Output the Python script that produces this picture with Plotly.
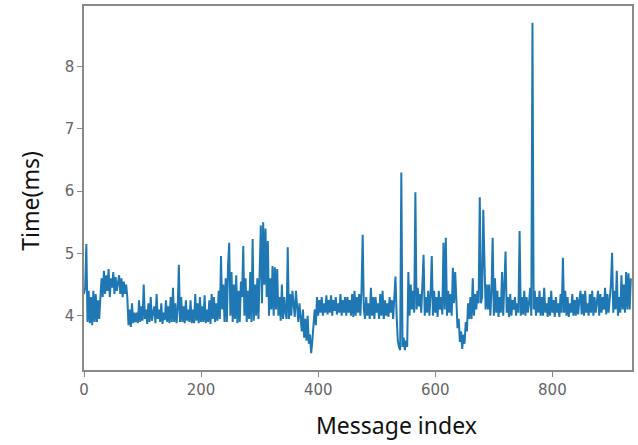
import plotly.graph_objects as go

step = 2
time_ms = [
    4.35, 4.45, 5.15, 3.90, 4.40, 3.88, 4.30, 3.85, 4.40, 3.90, 4.35, 3.90, 4.25, 3.95, 4.30,
    4.60, 4.30, 4.72, 4.35, 4.65, 4.40, 4.75, 4.30, 4.60, 4.45, 4.70, 4.35, 4.62, 4.40, 4.55,
    4.65, 4.35, 4.60, 4.30, 4.55, 4.35, 4.50, 4.30, 3.85, 4.10, 3.82, 4.20, 3.88, 4.05, 3.90,
    4.05, 3.88, 4.25, 3.90, 4.15, 3.92, 4.50, 3.95, 4.10, 3.87, 4.20, 3.90, 4.30, 3.92, 4.05,
    4.15, 3.88, 4.35, 3.95, 4.10, 3.90, 4.20, 3.87, 4.05, 3.93, 4.25, 3.90, 4.15, 3.88, 4.30,
    3.90, 4.45, 3.90, 4.20, 3.88, 4.10, 4.82, 3.90, 4.30, 3.90, 4.15, 3.88, 4.25, 3.92, 4.10,
    3.90, 4.25, 3.88, 4.10, 3.88, 4.35, 3.92, 4.20, 3.88, 4.30, 3.90, 4.15, 3.90, 4.33, 3.88,
    4.10, 3.90, 4.25, 3.87, 4.35, 3.95, 4.30, 3.90, 4.20, 3.92, 4.40, 3.95, 4.96, 4.10, 4.50,
    3.90, 4.60, 3.90, 4.80, 5.17, 4.00, 4.70, 3.90, 4.50, 3.95, 4.65, 3.88, 4.40, 3.90, 4.55,
    4.30, 5.12, 4.00, 4.60, 3.90, 4.40, 3.95, 4.70, 3.90, 5.23, 3.92, 4.50, 4.00, 4.60, 3.95,
    4.70, 5.45, 4.20, 5.50, 4.50, 5.40, 4.30, 5.20, 4.00, 4.60, 4.10, 4.80, 4.00, 4.78, 4.10,
    4.75, 4.00, 4.30, 3.92, 4.50, 3.95, 4.30, 4.05, 3.95, 5.10, 3.95, 4.35, 4.00, 4.40, 4.10,
    3.98, 4.40, 4.10, 3.90, 4.20, 4.00, 3.75, 4.10, 3.65, 3.95, 3.60, 4.00, 3.55, 3.70, 3.40,
    3.60, 3.80, 4.10, 3.85, 4.30, 4.00, 4.25, 4.05, 4.30, 4.00, 4.20, 4.05, 4.33, 4.02, 4.25,
    4.05, 4.33, 4.00, 4.25, 4.08, 4.30, 4.02, 4.20, 4.05, 4.35, 4.00, 4.25, 4.05, 4.30, 4.00,
    4.30, 4.05, 4.25, 4.00, 4.35, 3.98, 4.40, 4.00, 4.30, 4.05, 4.35, 4.00, 4.40, 5.30, 4.10,
    3.95, 4.30, 4.00, 4.20, 3.95, 4.45, 4.00, 4.30, 3.95, 4.30, 4.05, 4.20, 3.95, 4.35, 4.00,
    4.40, 3.95, 4.25, 4.00, 4.20, 3.98, 4.30, 4.05, 4.25, 3.95, 4.35, 4.63, 4.00, 3.60, 3.50,
    3.45, 6.30, 3.50, 3.65, 3.45, 3.60, 3.50, 4.70, 4.00, 4.50, 4.10, 4.40, 4.05, 5.98, 4.10,
    4.45, 4.15, 4.35, 4.05, 4.50, 4.98, 4.00, 4.30, 4.05, 4.40, 4.00, 4.35, 4.96, 4.00, 4.40,
    4.05, 4.30, 3.98, 4.40, 4.10, 4.30, 4.02, 5.17, 4.10, 5.25, 4.00, 4.40, 4.05, 4.35, 4.00,
    4.77, 4.20, 4.70, 4.05, 3.80, 3.95, 3.58, 3.75, 3.47, 3.70, 3.55, 3.90, 3.75, 4.20, 3.95,
    4.30, 3.95, 4.60, 4.00, 4.35, 4.10, 4.40, 4.20, 5.90, 4.20, 4.30, 5.70, 4.87, 4.10, 4.50,
    4.10, 4.50, 4.00, 4.40, 5.25, 4.00, 4.60, 4.05, 4.40, 3.98, 4.30, 4.05, 4.70, 4.00, 4.40,
    5.03, 4.05, 4.30, 3.98, 4.35, 4.00, 4.25, 4.10, 4.30, 4.00, 4.20, 4.05, 5.36, 4.00, 4.30,
    4.02, 4.40, 4.00, 4.30, 4.05, 4.20, 4.45, 4.00, 8.70, 4.10, 4.40, 4.00, 4.30, 4.05, 4.40,
    4.00, 4.30, 4.00, 4.45, 4.05, 4.20, 3.98, 4.30, 4.00, 4.40, 4.05, 4.25, 3.98, 4.30, 4.05,
    4.20, 3.98, 4.35, 4.05, 4.93, 4.05, 4.40, 4.00, 4.30, 3.98, 4.20, 4.05, 4.35, 4.00, 4.25,
    4.00, 4.30, 4.02, 4.25, 4.40, 4.02, 4.35, 4.00, 4.40, 4.05, 4.20, 4.00, 4.35, 4.05, 4.40,
    4.00, 4.30, 4.05, 4.20, 4.40, 4.00, 4.35, 4.05, 4.30, 4.10, 4.45, 4.02, 4.35, 4.05, 4.30,
    4.50, 5.01, 4.05, 4.40, 4.10, 4.72, 4.00, 4.30, 4.05, 4.65, 4.10, 4.50, 4.05, 4.70, 4.10,
    4.68, 4.10, 4.60,
]
message_index = [i * step for i in range(len(time_ms))]

x_ticks = [0, 200, 400, 600, 800]
y_ticks = [4, 5, 6, 7, 8]

fig = go.Figure()
fig.add_trace(go.Scatter(
    x=message_index, y=time_ms, mode="lines",
    line=dict(color="#1f77b4", width=2),
    showlegend=False,
))

axis_common = dict(
    showgrid=False, zeroline=False, showline=True, mirror=True,
    linecolor="#8a8a8a", linewidth=1.5,
    ticks="outside", ticklen=5, tickwidth=1.2, tickcolor="#8a8a8a",
    tickfont=dict(family="DejaVu Sans", size=15, color="#666666"),
)

fig.update_xaxes(range=[0, 936], tickvals=x_ticks, **axis_common)
fig.update_yaxes(range=[3.13, 8.97], tickvals=y_ticks, **axis_common)

fig.add_annotation(
    text="Message index", xref="paper", yref="paper",
    x=0.571, y=-0.151, showarrow=False, xanchor="center", yanchor="middle",
    font=dict(family="Noto Sans", size=23, color="#111111"),
)
fig.add_annotation(
    text="Time(ms)", xref="paper", yref="paper",
    x=-0.098, y=0.466, showarrow=False, xanchor="center", yanchor="middle",
    textangle=-90,
    font=dict(family="Noto Sans", size=23, color="#111111"),
)

fig.update_layout(
    width=638, height=445,
    margin=dict(l=84, r=4, t=5, b=75),
    paper_bgcolor="white", plot_bgcolor="white",
)

fig.write_html(
    "out.html",
    config={"displayModeBar": False},
    post_script="document.body.style.margin='0px';",
)
